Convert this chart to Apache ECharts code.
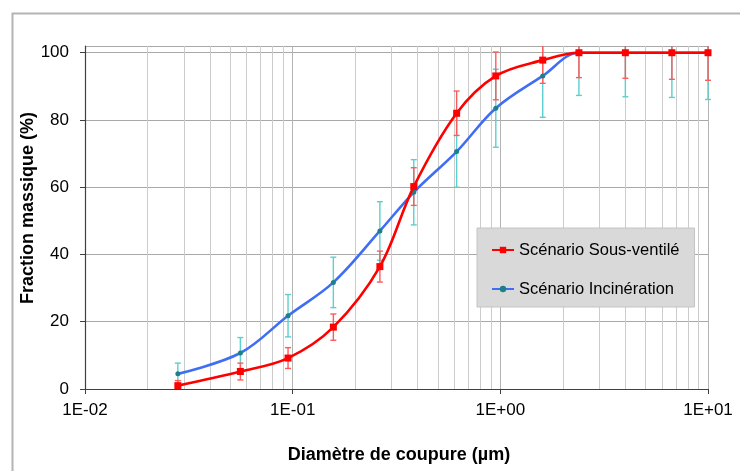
<!DOCTYPE html>
<html><head><meta charset="utf-8">
<script src="https://cdn.jsdelivr.net/npm/echarts@6/dist/echarts.min.js"></script>
<style>html,body{margin:0;padding:0;background:#fff}#c{width:740px;height:471px}</style>
</head><body><div id="c"></div>
<script>
// ---- data ----
const diameters = [0.028, 0.056, 0.095, 0.157, 0.263, 0.383, 0.616, 0.951, 1.60, 2.39, 4.00, 6.70, 10.0];
const sousVentile = [1.0, 5.2, 9.2, 18.4, 36.4, 60.2, 82.0, 93.1, 97.8, 100, 100, 100, 100];
const sousVentileErr = [1.5, 2.5, 3.1, 3.9, 4.6, 5.6, 6.6, 7.1, 6.9, 7.4, 7.6, 7.9, 8.2];
const incineration = [4.5, 10.7, 21.8, 31.7, 47.0, 58.5, 70.6, 83.5, 93.1, 100, 100, 100, 100];
const incinerationErr = [3.2, 4.6, 6.3, 7.5, 8.7, 9.7, 10.6, 11.6, 12.3, 12.7, 13.1, 13.3, 13.9];
const seriesNames = ['Scénario Sous-ventilé', 'Scénario Incinération'];
const xTickLabels = ['1E-02', '1E-01', '1E+00', '1E+01'];
const xTitle = 'Diamètre de coupure (µm)';
const yTitle = 'Fraction massique (%)';
const yMin = 0, yMax = 102, yStep = 20;
const xMin = 0.01, xMax = 10;
const minorDecades = [0.01, 0.1, 1];
const minorMultipliers = [2, 3, 4, 5, 6, 7, 8, 9];

// ---- build ----
const FONT = '"Liberation Sans", Arial, sans-serif';
const pairs = (ys) => diameters.map((d, i) => [d, ys[i]]);
const errData = (ys, es) => diameters.map((d, i) => [d, ys[i] - es[i], ys[i] + es[i]]);
const minorLines = [];
minorDecades.forEach(d => minorMultipliers.forEach(m => minorLines.push({ xAxis: +(d * m).toPrecision(3) })));

function errorBar(color) {
  return function (params, api) {
    const x = api.value(0);
    const lo = Math.max(api.value(1), yMin);
    const hi = Math.min(api.value(2), yMax);
    const pLo = api.coord([x, lo]);
    const pHi = api.coord([x, hi]);
    const w = 3;
    const st = { stroke: color, lineWidth: 1.4 };
    const children = [
      { type: 'line', shape: { x1: pLo[0], y1: pLo[1], x2: pHi[0], y2: pHi[1] }, style: st }
    ];
    if (api.value(1) >= yMin) children.push({ type: 'line', shape: { x1: pLo[0] - w, y1: pLo[1], x2: pLo[0] + w, y2: pLo[1] }, style: st });
    if (api.value(2) <= yMax) children.push({ type: 'line', shape: { x1: pHi[0] - w, y1: pHi[1], x2: pHi[0] + w, y2: pHi[1] }, style: st });
    return { type: 'group', children };
  };
}

const chart = echarts.init(document.getElementById('c'), null, { renderer: 'canvas' });
chart.setOption({
  backgroundColor: '#ffffff',
  animation: false,
  textStyle: { fontFamily: FONT },
  grid: { left: 85, right: 32, top: 46, bottom: 82, containLabel: false },
  xAxis: {
    type: 'log', logBase: 10, min: xMin, max: xMax,
    axisLine: { show: true, lineStyle: { color: '#404040', width: 1.2 } },
    axisTick: { show: true, inside: false, length: 5, lineStyle: { color: '#404040' } },
    axisLabel: {
      margin: 13, color: '#000', fontSize: 17, fontFamily: FONT,
      formatter: (v, i) => xTickLabels[i]
    },
    splitLine: { show: true, lineStyle: { color: '#b4b4b4', width: 1 } },
    minorTick: { show: false }, minorSplitLine: { show: false }
  },
  yAxis: {
    type: 'value', min: yMin, max: yMax, interval: yStep,
    axisLine: { show: true, lineStyle: { color: '#404040', width: 1.2 } },
    axisTick: { show: true, inside: false, length: 5, lineStyle: { color: '#404040' } },
    axisLabel: { margin: 16, color: '#000', fontSize: 17, fontFamily: FONT, showMaxLabel: false },
    splitLine: { show: true, lineStyle: { color: '#a8a8a8', width: 1 } }
  },
  legend: {
    orient: 'vertical', left: 477, top: 228, z: 20,
    data: seriesNames,
    backgroundColor: '#d9d9d9', borderColor: '#c4c4c4', borderWidth: 1, borderRadius: 0,
    padding: [13, 15, 9, 14],
    itemWidth: 22, itemHeight: 8, itemGap: 21,
    textStyle: { fontSize: 16.5, color: '#000', fontFamily: FONT, lineHeight: 18 }
  },
  graphic: [
    { type: 'rect', left: 10, top: 11, shape: { x: 0, y: 0, width: 800, height: 520 }, style: { fill: 'none', stroke: '#b4b4b4', lineWidth: 2 }, z: 100, silent: true },
    { type: 'text', x: 28.5, y: 208, rotation: Math.PI / 2, style: { text: yTitle, font: 'bold 18px ' + FONT, fill: '#000', textAlign: 'center', textVerticalAlign: 'middle' } },
    { type: 'text', x: 399, y: 455, style: { text: xTitle, font: 'bold 18px ' + FONT, fill: '#000', textAlign: 'center', textVerticalAlign: 'middle' } }
  ],
  series: [
    {
      name: 'minorGrid', type: 'line', data: [], z: 0, silent: true,
      markLine: {
        silent: true, z: 0, symbol: ['none', 'none'], label: { show: false },
        lineStyle: { color: '#cccccc', width: 1, type: 'solid' },
        emphasis: { disabled: true },
        data: minorLines
      }
    },
    {
      name: 'errInc', type: 'custom', z: 1, silent: true,
      encode: { x: 0, y: [1, 2] },
      renderItem: errorBar('#5ccfcf'),
      data: errData(incineration, incinerationErr)
    },
    {
      name: 'errSous', type: 'custom', z: 1, silent: true,
      encode: { x: 0, y: [1, 2] },
      renderItem: errorBar('#ff5a5a'),
      data: errData(sousVentile, sousVentileErr)
    },
    {
      name: seriesNames[1], type: 'line', z: 3, smooth: 0.35,
      data: pairs(incineration),
      symbol: 'circle', symbolSize: 5,
      itemStyle: { color: '#1f7f86', borderWidth: 0 },
      lineStyle: { color: '#3f6ef5', width: 2.6 }
    },
    {
      name: seriesNames[0], type: 'line', z: 4, smooth: 0.35,
      data: pairs(sousVentile),
      symbol: 'rect', symbolSize: 7,
      itemStyle: { color: '#ff0000', borderWidth: 0 },
      lineStyle: { color: '#ff0000', width: 2.6 }
    }
  ]
});
</script></body></html>
